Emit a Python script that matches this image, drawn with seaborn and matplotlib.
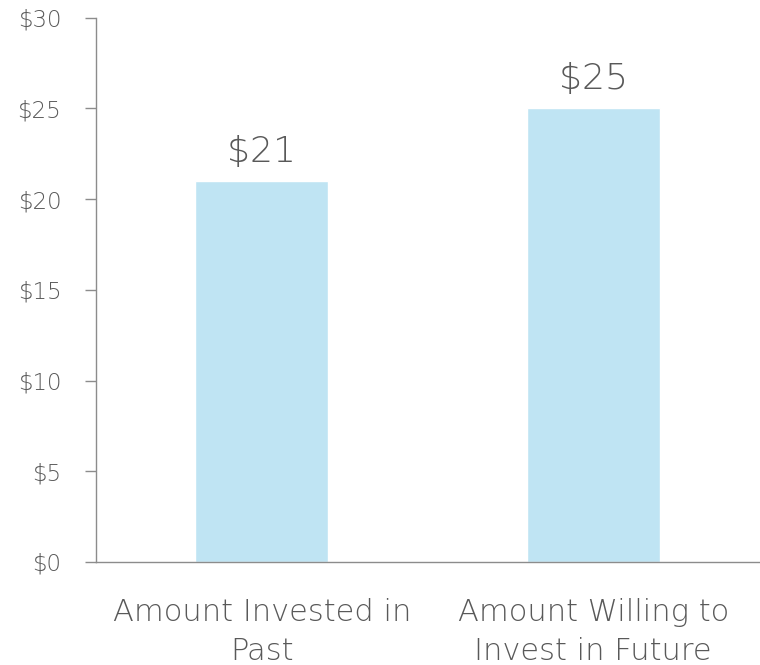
import matplotlib
matplotlib.use("Agg")
import matplotlib.pyplot as plt
import seaborn as sns
import pandas as pd

categories = ["Amount Invested in\nPast", "Amount Willing to\nInvest in Future"]
amounts = [21, 25]
y_ticks = [0, 5, 10, 15, 20, 25, 30]

sns.set_theme(style="white")
plt.rcParams["font.family"] = ["DejaVu Sans"]
plt.rcParams["font.weight"] = "light"

text_color = "#595959"
axis_color = "#8c8c8c"
bar_color = "#bfe4f3"

df = pd.DataFrame({"category": categories, "amount": amounts})

fig = plt.figure(figsize=(7.6, 6.65), dpi=100)
ax = fig.add_axes([96 / 760, (665 - 562) / 665, (759 - 96) / 760, (562 - 17.5) / 665])

sns.barplot(data=df, x="category", y="amount", color=bar_color, width=0.4,
            saturation=1, ax=ax)

ax.set_xlim(-0.5, 1.5)
ax.set_ylim(0, 30)
ax.set_yticks(y_ticks)
ax.set_yticklabels([f"${v}" for v in y_ticks], fontsize=16.5, color=text_color,
                   fontweight="light")
ax.set_xticks(range(len(categories)))
ax.set_xticklabels(categories, fontsize=22, color=text_color, linespacing=1.45,
                   fontweight="light")
ax.set_xticks([-0.5, 0.5, 1.5], minor=True)
ax.tick_params(axis="x", which="major", length=0, pad=26)
ax.tick_params(axis="x", which="minor", length=8, width=1, color=axis_color, direction="out")
ax.tick_params(axis="y", length=8, width=1, color=axis_color, direction="out", pad=17,
               left=True)
ax.set_xlabel("")
ax.set_ylabel("")

for side in ["top", "right"]:
    ax.spines[side].set_visible(False)
for side in ["left", "bottom"]:
    ax.spines[side].set_color(axis_color)
    ax.spines[side].set_linewidth(1)

for i, v in enumerate(amounts):
    ax.annotate(f"${v}", (i, v), xytext=(0, 19), textcoords="offset pixels",
                ha="center", va="baseline", fontsize=26, color=text_color,
                fontweight="light")

fig.savefig("out.png", dpi=100)
